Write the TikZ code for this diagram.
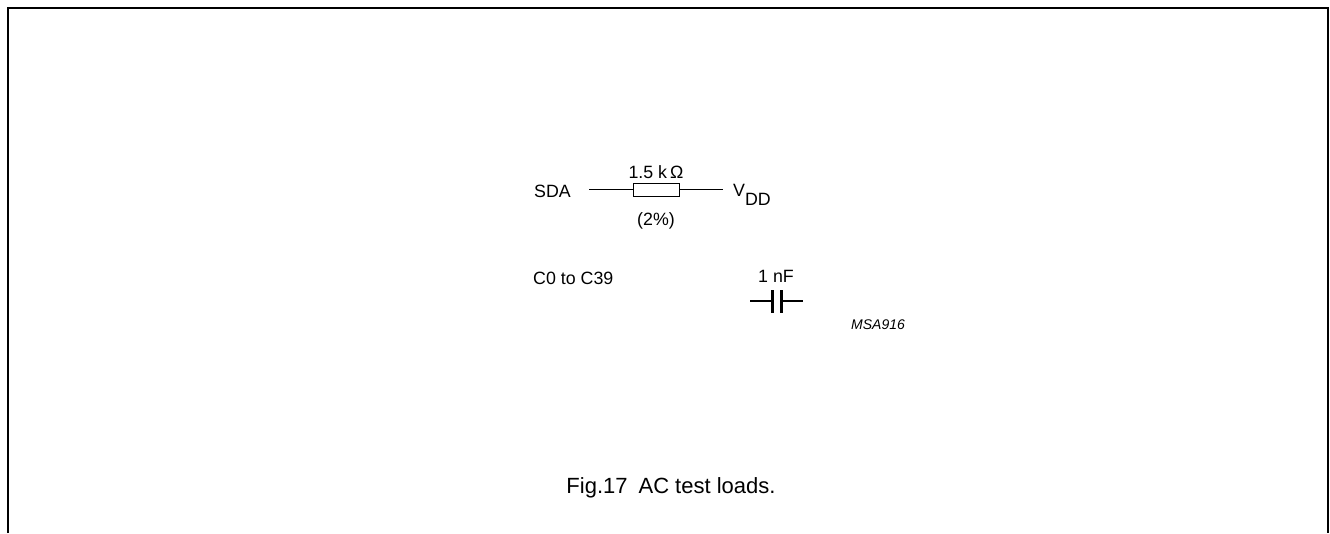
\documentclass[tikz,border=0pt]{standalone}
\usepackage{fontspec}
\setmainfont{Liberation Sans}
\begin{document}
\begin{tikzpicture}[x=1pt,y=-1pt,
  wire/.style={line width=1.1pt},
  frame/.style={line width=2pt},
  lbl/.style={inner sep=0pt,font=\fontsize{17.8}{20}\selectfont},
  plate/.style={line width=3pt}]
\useasboundingbox (0,0) rectangle (1330,533);
\draw[frame] (8,533) -- (8,8) -- (1328,8) -- (1328,533);
% resistor
\coordinate (r1) at (589,189.5);
\node[draw,line width=1pt,minimum width=46pt,minimum height=13pt,inner sep=0pt] (R) at (656,189.5) {};
\coordinate (r2) at (723,189.5);
\draw[wire] (r1) -- (R.west);
\draw[wire] (R.east) -- (r2);
\node[lbl,anchor=base west] (sda) at (534,197) {SDA};
\node[lbl,anchor=base] (rval) at (656,178) {1.5 k\,Ω};
\node[lbl,anchor=base] (rtol) at (656,225) {(2\%)};
\node[lbl,anchor=base west] (vdd) at (733,196) {V\raisebox{-9pt}{DD}};
% capacitor
\coordinate (c1) at (750,301);
\coordinate (p1) at (772.5,301);
\coordinate (p2) at (781,301);
\coordinate (c2) at (803,301);
\draw[wire] (c1) -- (p1);
\draw[wire] (p2) -- (c2);
\draw[plate] (772.5,290) -- (772.5,313);
\draw[plate] (781,290) -- (781,313);
\node[lbl,anchor=base] (cval) at (776,282) {1 nF};
\node[lbl,anchor=base west] (cpins) at (533,284) {C0 to C39};
\node[inner sep=0pt,anchor=base west,font=\fontsize{14}{16}\selectfont\itshape] (code) at (851,329) {MSA916};
\node[inner sep=0pt,anchor=base,font=\fontsize{22}{26}\selectfont] (cap) at (671,493) {Fig.17\hspace{0.5em}AC test loads.};
\end{tikzpicture}
\end{document}
